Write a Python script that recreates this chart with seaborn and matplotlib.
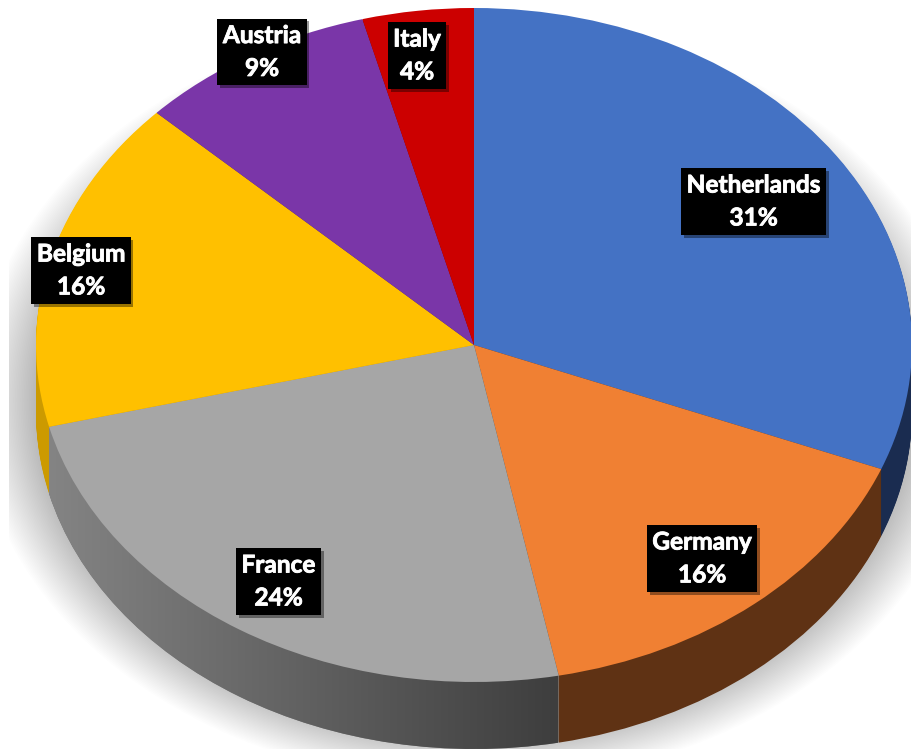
import matplotlib
matplotlib.use("Agg")
import matplotlib.pyplot as plt
import numpy as np
import seaborn as sns
from matplotlib.patches import Rectangle
from matplotlib.path import Path
from matplotlib.patheffects import withSimplePatchShadow, withStroke

countries = ["Netherlands", "Germany", "France", "Belgium", "Austria", "Italy"]
shares = [31.0, 15.9, 24.2, 16.0, 8.8, 4.1]

top_colors = ["#4472c4", "#f08033", "#a6a6a6", "#ffc000", "#7a36a8", "#cc0000"]
side_colors = ["#1a2c50", "#5f3214", "#808080", "#cc9a00", "#4a2066", "#7a0000"]
label_centers_px = [(753.5, 201.5), (702, 558.5), (278.5, 581.5),
                    (81, 270.5), (262, 52), (417, 55.5)]

W, H = 912, 749
CX, CY, RX, RY = 474, 345, 438, 337
DEPTH_PX = 67

sns.set_theme(style="white")
plt.rcParams["font.family"] = ["Lato", "DejaVu Sans"]

fig = plt.figure(figsize=(W / 100, H / 100), dpi=100)
ax = fig.add_axes([0, 0, 1, 1])
clip_rect = Rectangle((9 / W, 0), 1, 1, transform=ax.transAxes)

# soft shadow
n_layers = 36
for i in range(n_layers):
    grow = 1.14 - 0.14 * i / (n_layers - 1)
    wedges, _ = ax.pie([1], colors=["black"], radius=grow,
                       center=(0, -55 / RY),
                       wedgeprops={"linewidth": 0, "alpha": 0.0095, "zorder": 0.5})
    for w in wedges:
        w.set_clip_on(True)
        w.set_clip_path(clip_rect)

# extruded side wall
france_paths = []
for d in range(DEPTH_PX, 0, -1):
    wedges, _ = ax.pie(shares, colors=side_colors, startangle=90, counterclock=False,
                       center=(0, -d / RY), wedgeprops={"linewidth": 0, "zorder": 1})
    w = wedges[countries.index("France")]
    france_paths.append(w.get_path().transformed(w.get_patch_transform()))

cmap = sns.blend_palette(["#848484", "#3e3e3e"], as_cmap=True)
gradient = np.linspace(0, 1, 256).reshape(1, -1)
im = ax.imshow(gradient, cmap=cmap, aspect="auto", zorder=2,
               extent=((48 - CX) / RX, (558 - CX) / RX, -1.5, 0.5))
im.set_clip_path(Path.make_compound_path(*france_paths), ax.transData)

# top face
ax.pie(shares, colors=top_colors, startangle=90, counterclock=False,
       wedgeprops={"linewidth": 0, "zorder": 3})

ax.set_aspect("auto")
ax.set_xlim(-CX / RX, (W - CX) / RX)
ax.set_ylim((CY - H) / RY, CY / RY)
ax.axis("off")

for name, val, (px, py) in zip(countries, shares, label_centers_px):
    t = ax.text(px / W, 1 - py / H, f"{name}\n{round(val)}%", transform=fig.transFigure,
                ha="center", va="center", ma="center", color="white", fontsize=17.6,
                fontweight="bold", linespacing=1.52, zorder=10,
                path_effects=[withStroke(linewidth=0.6, foreground="white")],
                bbox=dict(boxstyle="square,pad=0.22", facecolor="black", edgecolor="none"))
    t.get_bbox_patch().set_path_effects([withSimplePatchShadow(offset=(2, -2), alpha=0.4)])

fig.savefig("out.png", dpi=100, facecolor="white")
